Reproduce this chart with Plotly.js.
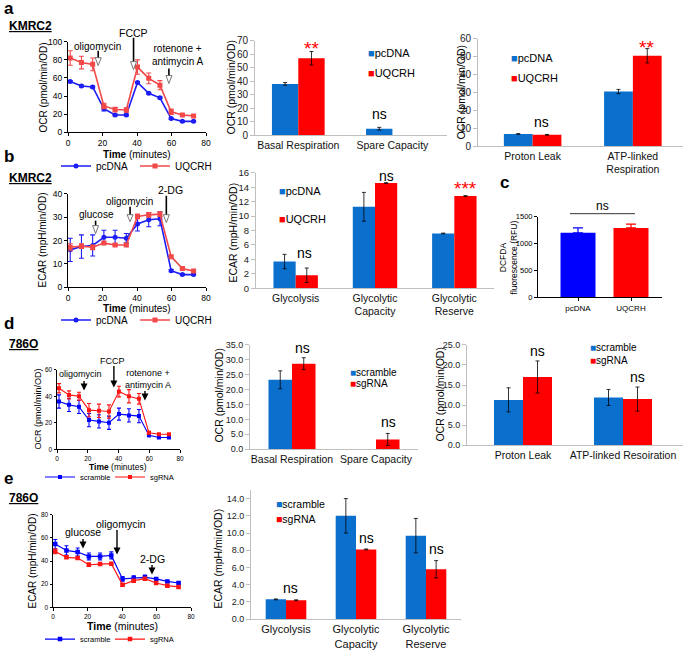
<!DOCTYPE html>
<html><head><meta charset="utf-8">
<script src="https://cdn.plot.ly/plotly-3.0.1.min.js"></script>
<style>html,body{margin:0;padding:0;background:#fff}#chart{width:685px;height:654px}</style>
</head><body><div id="chart"></div>
<script>
// ================= DATA =================
const times = [1.3, 7.8, 14.3, 20.8, 27.3, 33.8, 40.3, 46.8, 53.3, 59.8, 66.3, 72.8];
const timeTicks = [0, 20, 40, 60, 80];

// a (KMRC2 OCR time course)
const aOcrPcDNA    = [56, 51, 50, 26, 19, 19, 55, 43, 38, 15, 12, 12];
const aOcrPcDNAErr = [1, 1, 1, 2.5, 1, 1, 1, 1, 1, 1, 0.8, 0.8];
const aOcrUQCRH    = [82, 77, 75, 29, 25, 24.5, 72, 59.5, 52, 22.5, 19, 18];
const aOcrUQCRHErr = [8, 7, 7, 3, 2.5, 2.5, 8, 6, 5, 3, 1, 1];
const aInjTimes  = [17.5, 38, 58.5];
const aInjLabels = ['oligomycin', 'FCCP', 'rotenone +<br>antimycin A'];

// a middle bars
const aMidCats = ['Basal Respiration', 'Spare Capacity'];
const aMidPcDNA = [38, 4.8],   aMidPcDNAErr = [1, 1];
const aMidUQCRH = [57, null],  aMidUQCRHErr = [5, null];
const aMidSig = ['**', 'ns'];

// a right bars
const aRightCats = ['Proton Leak', 'ATP-linked<br>Respiration'];
const aRightPcDNA = [6.8, 30.5], aRightPcDNAErr = [0.2, 1.2];
const aRightUQCRH = [6.3, 50.5], aRightUQCRHErr = [0.2, 4];
const aRightSig = ['ns', '**'];

// b (KMRC2 ECAR time course)
const bEcarPcDNA    = [16, 17.4, 17.9, 21.4, 21.4, 21, 27.1, 28.9, 29.3, 7.1, 5.4, 5.4];
const bEcarPcDNAErr = [5, 5, 4.5, 3, 3, 2, 3, 3, 3, 0.5, 0.3, 0.3];
const bEcarUQCRH    = [17.1, 17.6, 17.1, 18.9, 18.1, 18.1, 30.3, 31, 31.3, 13.1, 8, 6.9];
const bEcarUQCRHErr = [1.5, 1, 1, 0.5, 0.5, 0.5, 1, 1, 1, 0.5, 0.5, 0.5];
const bInjTimes  = [16, 36, 57];
const bInjLabels = ['glucose', 'oligomycin', '2-DG'];

// b middle bars
const bMidCats = ['Glycolysis', 'Glycolytic<br>Capacity', 'Glycolytic<br>Reserve'];
const bMidPcDNA = [3.7, 11.3, 7.6],  bMidPcDNAErr = [1, 2, 0.05];
const bMidUQCRH = [1.8, 14.6, 12.8], bMidUQCRHErr = [1, 0.05, 0.05];
const bMidSig = ['ns', 'ns', '***'];

// c DCFDA
const cCats = ['pcDNA', 'UQCRH'];
const cValues = [1200, 1290];
const cErr = [90, 70];
const cSig = 'ns';

// d (786O OCR time course)
const dOcrScramble    = [36, 33.5, 32, 22, 21, 20, 26.5, 25.5, 25, 10.5, 8.8, 8.8];
const dOcrScrambleErr = [5, 5, 5, 5, 5, 5, 4.5, 5, 5, 1, 0.6, 0.6];
const dOcrSgRNA       = [46, 41, 40, 29.5, 29, 28.5, 43.5, 40, 38, 12.5, 11.3, 11.3];
const dOcrSgRNAErr    = [3.5, 3, 3, 5, 5, 5, 4, 5, 4, 1, 0.5, 0.5];
const dInjTimes  = [17.6, 37, 57.2];
const dInjLabels = ['oligomycin', 'FCCP', 'rotenone +<br>antimycin A'];

// d middle bars
const dMidCats = ['Basal Respiration', 'Spare Capacity'];
const dMidScramble = [23.3, null], dMidScrambleErr = [3, null];
const dMidSgRNA    = [28.7, 3.3],  dMidSgRNAErr = [2, 2];
const dMidSig = ['ns', 'ns'];

// d right bars
const dRightCats = ['Proton Leak', 'ATP-linked Resoiration'];
const dRightScramble = [11.3, 11.9], dRightScrambleErr = [3, 2];
const dRightSgRNA    = [17, 11.5],   dRightSgRNAErr = [4, 3];
const dRightSig = ['ns', 'ns'];

// e (786O ECAR time course)
const eEcarScramble    = [54.7, 49.2, 47.8, 44, 44, 44.9, 24.5, 25.3, 25.9, 24.5, 22.4, 21];
const eEcarScrambleErr = [4, 4, 3.5, 3, 3, 3, 2, 2, 2, 1, 1, 1];
const eEcarSgRNA       = [48.3, 43.2, 42.6, 36.8, 37.4, 37.7, 19.5, 23, 24.7, 21, 18.7, 17.6];
const eEcarSgRNAErr    = [2, 1, 1, 1.5, 1, 1, 1, 1, 1, 1, 1, 1];
const eInjTimes  = [17.4, 37.1, 57.4];
const eInjLabels = ['glucose', 'oligomycin', '2-DG'];

// e right bars
const eRightCats = ['Glycolysis', 'Glycolytic<br>Capacity', 'Glycolytic<br>Reserve'];
const eRightScramble = [2.3, 12, 9.7], eRightScrambleErr = [0.05, 2, 2];
const eRightSgRNA    = [2.2, 8.1, 5.8], eRightSgRNAErr = [0.05, 0.05, 1];
const eRightSig = ['ns', 'ns', 'ns'];

// ================= HELPERS =================
const W = 685, H = 654;
const X = p => p / W;
const Y = p => 1 - p / H;
const FONT = 'Liberation Sans, Arial, Helvetica, sans-serif';
const BAR_BLUE = '#0b6fcd', BAR_RED = '#ff0000';
const GP_BLUE = '#1c1cf5', GP_RED = '#f24848';
const GP2_BLUE = '#0000ff', GP2_RED = '#ff1414';

const traces = [];
const layout = {
  width: W, height: H, margin: {l: 0, r: 0, t: 0, b: 0},
  paper_bgcolor: '#fff', plot_bgcolor: 'rgba(0,0,0,0)',
  font: {family: FONT, color: '#000', size: 10},
  barmode: 'overlay', showlegend: true, hovermode: false,
  annotations: [], shapes: []
};
const ids = n => ({xk: n === 1 ? 'xaxis' : 'xaxis' + n, yk: n === 1 ? 'yaxis' : 'yaxis' + n,
                   xr: n === 1 ? 'x' : 'x' + n, yr: n === 1 ? 'y' : 'y' + n});

function gpAxes(n, xpx, ypx, yrange, dtick, fs, tl) {
  const k = ids(n);
  const common = {showline: true, linecolor: '#000', linewidth: 1, ticks: 'outside', ticklen: tl,
    tickwidth: 1, tickcolor: '#000', tickfont: {size: fs, color: '#000'}, showgrid: false,
    zeroline: false, fixedrange: true};
  layout[k.xk] = Object.assign({domain: [X(xpx[0]), X(xpx[1])], anchor: k.yr, range: [0, 80],
    tickvals: timeTicks}, common);
  layout[k.yk] = Object.assign({domain: [Y(ypx[1]), Y(ypx[0])], anchor: k.xr, range: yrange,
    tick0: 0, dtick: dtick}, common);
  return k;
}
function xlAxes(n, xpx, ypx, xrange, yrange, dtick, fmt, tfs, cfs) {
  const k = ids(n);
  layout[k.xk] = {domain: [X(xpx[0]), X(xpx[1])], anchor: k.yr, type: 'category', range: xrange,
    showline: true, linecolor: '#bfbfbf', linewidth: 1, ticks: '', tickfont: {size: cfs, color: '#111'},
    showgrid: false, zeroline: false, fixedrange: true};
  layout[k.yk] = {domain: [Y(ypx[1]), Y(ypx[0])], anchor: k.xr, range: yrange, tick0: 0, dtick: dtick,
    tickformat: fmt, showline: true, linecolor: '#bfbfbf', linewidth: 1, ticks: 'outside', ticklen: 4,
    tickcolor: '#bfbfbf', tickfont: {size: tfs, color: '#222'}, showgrid: false, zeroline: false, fixedrange: true};
  return k;
}
function lineTrace(k, y, err, name, color, leg, ms, sym, lw, ew) {
  traces.push({type: 'scatter', mode: 'lines+markers', x: times, y: y, name: name,
    xaxis: k.xr, yaxis: k.yr, legend: leg, line: {color: color, width: lw},
    marker: {color: color, size: ms, symbol: sym},
    error_y: {type: 'data', array: err, visible: true, color: color, thickness: 1.1, width: ew}});
}
function barTrace(k, cats, y, err, name, color, w, off) {
  traces.push({type: 'bar', x: cats, y: y, name: name, xaxis: k.xr, yaxis: k.yr, width: w, offset: off,
    showlegend: false, marker: {color: color, line: {width: 0}},
    error_y: {type: 'data', array: err, visible: true, color: '#000', thickness: 0.8, width: 2}});
}
function txt(text, xpx, ypx, size, opts) {
  layout.annotations.push(Object.assign({text: text, x: X(xpx), y: Y(ypx), xref: 'paper', yref: 'paper',
    xanchor: 'center', yanchor: 'middle', showarrow: false, font: {size: size, color: '#000', family: FONT}}, opts || {}));
}
function ytitle(text, xpx, ypx, size) { txt(text, xpx, ypx, size, {textangle: -90}); }
function barLegend(xpx, ypx, color, name, size) {
  txt('<span style="color:' + color + '">\u25A0</span>' + name, xpx, ypx, size, {xanchor: 'left'});
}
function sig(k, cat, yv, text, shift, color, size) {
  layout.annotations.push({text: text, x: cat, y: yv, xref: k.xr, yref: k.yr, xshift: shift,
    xanchor: 'center', yanchor: 'middle', showarrow: false, font: {size: size, color: color, family: FONT}});
}
// open-headed injection arrow (GraphPad style, panels a/b)
function openArrow(k, t, top, mid, bottom, pxPerMin) {
  const h = 3 / pxPerMin;
  layout.shapes.push({type: 'line', xref: k.xr, yref: 'paper', x0: t, x1: t, y0: Y(top), y1: Y(mid),
    line: {color: '#000', width: 1.6}});
  layout.shapes.push({type: 'path', xref: k.xr, yref: 'paper',
    path: 'M ' + (t - h) + ' ' + Y(mid) + ' L ' + (t + h) + ' ' + Y(mid) + ' L ' + t + ' ' + Y(bottom) + ' Z',
    fillcolor: '#fff', line: {color: '#555', width: 0.8}});
}
// filled injection arrow (panels d/e)
function solidArrow(k, t, tail, head) {
  layout.annotations.push({text: '', x: t, y: Y(head), xref: k.xr, yref: 'paper', showarrow: true,
    ax: 0, ay: -(head - tail), arrowhead: 2, arrowsize: 1, arrowwidth: 1.4, arrowcolor: '#000'});
}
function legendCfg(xpx, ypx, fs, ew) {
  return {x: X(xpx), y: Y(ypx), xanchor: 'left', yanchor: 'middle', orientation: 'h',
    font: {size: fs, color: '#000', family: FONT}, bgcolor: 'rgba(0,0,0,0)', borderwidth: 0,
    entrywidth: ew, entrywidthmode: 'pixels', itemclick: false, itemdoubleclick: false};
}

// ================= PANEL a =================
txt('<b>a</b>', 2, 9, 17, {xanchor: 'left'});
txt('<b><u>KMRC2</u></b>', 7, 26, 12, {xanchor: 'left'});

let k = gpAxes(1, [68, 206], [42, 133], [0, 100], 20, 8.5, 3);
lineTrace(k, aOcrPcDNA, aOcrPcDNAErr, 'pcDNA', GP_BLUE, 'legend', 5, 'circle', 1.6, 2.5);
lineTrace(k, aOcrUQCRH, aOcrUQCRHErr, 'UQCRH', GP_RED, 'legend', 5, 'square', 1.6, 2.5);
layout.legend = legendCfg(56, 167, 10, 34);
ytitle('OCR (pmol/min/OD)', 43, 88, 10);
txt('<b>Time</b> (minutes)', 137, 155, 10);
const aPPM = 138 / 80;
txt(aInjLabels[0], 98, 47, 10);
txt(aInjLabels[1], 133, 33, 10.5);
txt(aInjLabels[2], 177, 55, 10);
openArrow(k, aInjTimes[0], 51, 58, 66, aPPM);
openArrow(k, aInjTimes[1], 38, 62, 70, aPPM);
openArrow(k, aInjTimes[2], 69, 76, 84, aPPM);

k = xlAxes(2, [255, 447], [41, 136], [-0.46, 1.58], [0, 70], 10, '', 10, 10.5);
barTrace(k, aMidCats, aMidPcDNA, aMidPcDNAErr, 'pcDNA', BAR_BLUE, 0.28, -0.28);
barTrace(k, aMidCats, aMidUQCRH, aMidUQCRHErr, 'UQCRH', BAR_RED, 0.28, 0);
barLegend(366, 53, BAR_BLUE, 'pcDNA', 11);
barLegend(366, 73, BAR_RED, 'UQCRH', 11);
ytitle('OCR (pmol/min/OD)', 231, 88, 10.5);
sig(k, aMidCats[0], 64, aMidSig[0], 13, '#ff0000', 19);
sig(k, aMidCats[1], 15.5, aMidSig[1], -13, '#000', 14);

k = xlAxes(3, [478, 683], [39, 147], [-0.545, 1.5], [0, 60], 10, '', 10, 10.5);
barTrace(k, aRightCats, aRightPcDNA, aRightPcDNAErr, 'pcDNA', BAR_BLUE, 0.287, -0.287);
barTrace(k, aRightCats, aRightUQCRH, aRightUQCRHErr, 'UQCRH', BAR_RED, 0.287, 0);
barLegend(509, 58, BAR_BLUE, 'pcDNA', 11);
barLegend(509, 78, BAR_RED, 'UQCRH', 11);
ytitle('OCR (pmol/min/OD)', 461, 93, 10.5);
sig(k, aRightCats[0], 13.3, aRightSig[0], 9, '#000', 14);
sig(k, aRightCats[1], 55, aRightSig[1], 14, '#ff0000', 19);

// ================= PANEL b =================
txt('<b>b</b>', 2, 157, 17, {xanchor: 'left'});
txt('<b><u>KMRC2</u></b>', 7, 179, 12, {xanchor: 'left'});

k = gpAxes(4, [68, 206], [195, 289], [0, 40], 10, 8.5, 3);
lineTrace(k, bEcarPcDNA, bEcarPcDNAErr, 'pcDNA', GP_BLUE, 'legend2', 5, 'circle', 1.6, 2.5);
lineTrace(k, bEcarUQCRH, bEcarUQCRHErr, 'UQCRH', GP_RED, 'legend2', 5, 'square', 1.6, 2.5);
layout.legend2 = legendCfg(56, 322, 10, 34);
ytitle('ECAR (mpH/min/OD)', 43, 242, 10);
txt('<b>Time</b> (minutes)', 137, 310, 10);
txt(bInjLabels[0], 96, 216, 10);
txt(bInjLabels[1], 129, 203, 10);
txt(bInjLabels[2], 170, 191, 10.5);
openArrow(k, bInjTimes[0], 222, 227, 235, aPPM);
openArrow(k, bInjTimes[1], 208, 216, 223, aPPM);
openArrow(k, bInjTimes[2], 197, 216, 224, aPPM);

k = xlAxes(5, [256, 494], [174, 290], [-0.5, 2.5], [0, 16], 2, '', 9.5, 10.5);
barTrace(k, bMidCats, bMidPcDNA, bMidPcDNAErr, 'pcDNA', BAR_BLUE, 0.28, -0.28);
barTrace(k, bMidCats, bMidUQCRH, bMidUQCRHErr, 'UQCRH', BAR_RED, 0.28, 0);
barLegend(277, 192, BAR_BLUE, 'pcDNA', 11);
barLegend(277, 220, BAR_RED, 'UQCRH', 11);
ytitle('ECAR (mpH/min/OD)', 233, 234, 10.5);
sig(k, bMidCats[0], 4.9, bMidSig[0], 9, '#000', 14);
sig(k, bMidCats[1], 15.6, bMidSig[1], 11, '#000', 14);
sig(k, bMidCats[2], 13.9, bMidSig[2], 11, '#ff0000', 19);

// ================= PANEL c =================
txt('<b>c</b>', 498, 184, 17, {xanchor: 'left'});
k = ids(6);
layout[k.xk] = {domain: [X(538), X(662)], anchor: k.yr, type: 'category', range: [-0.755, 1.585],
  showline: true, linecolor: '#000', linewidth: 1, ticks: 'outside', ticklen: 3, tickcolor: '#000',
  tickfont: {size: 8, color: '#000'}, showgrid: false, zeroline: false, fixedrange: true};
layout[k.yk] = {domain: [Y(299), Y(218)], anchor: k.xr, range: [0, 1500], tick0: 0, dtick: 500,
  showline: true, linecolor: '#000', linewidth: 1, ticks: 'outside', ticklen: 3, tickcolor: '#000',
  tickfont: {size: 7.5, color: '#000'}, showgrid: false, zeroline: false, fixedrange: true};
[0, 1].forEach(i => {
  const col = i === 0 ? '#0000ff' : '#ff0000';
  traces.push({type: 'bar', x: [cCats[i]], y: [cValues[i]], name: cCats[i], xaxis: k.xr, yaxis: k.yr,
    width: 0.66, offset: -0.33, showlegend: false, marker: {color: col, line: {width: 0}},
    error_y: {type: 'data', array: [cErr[i]], arrayminus: [0], symmetric: false, visible: true,
      color: col, thickness: 1.2, width: 5}});
});
ytitle('DCFDA<br>fluorescence (RFU)', 508, 259, 8.5);
layout.shapes.push({type: 'line', xref: 'paper', yref: 'paper', x0: X(570), x1: X(635), y0: Y(215), y1: Y(215),
  line: {color: '#000', width: 0.8}});
txt(cSig, 602, 207, 12);

// ================= PANEL d =================
txt('<b>d</b>', 2, 325, 17, {xanchor: 'left'});
txt('<b><u>786O</u></b>', 7, 346, 12, {xanchor: 'left'});

k = gpAxes(7, [57, 180], [372, 452], [0, 60], 20, 6.5, 2.5);
lineTrace(k, dOcrScramble, dOcrScrambleErr, 'scramble', GP2_BLUE, 'legend3', 4, 'square', 1.1, 2);
lineTrace(k, dOcrSgRNA, dOcrSgRNAErr, 'sgRNA', GP2_RED, 'legend3', 4, 'square', 1.1, 2);
layout.legend3 = legendCfg(40, 480, 7.5, 25);
ytitle('OCR (pmol/min/OD)', 38, 412, 9);
txt('<b>Time</b> (minutes)', 118, 469.5, 8.5);
txt(dInjLabels[0], 80, 376, 9);
txt(dInjLabels[1], 113, 363, 9);
txt(dInjLabels[2], 148, 381, 9);
solidArrow(k, dInjTimes[0], 382, 393);
solidArrow(k, dInjTimes[1], 367, 390);
solidArrow(k, dInjTimes[2], 392, 403);

k = xlAxes(8, [250, 418], [347, 452], [-0.5, 1.5], [0, 35], 5, '.1f', 9, 10.5);
barTrace(k, dMidCats, dMidScramble, dMidScrambleErr, 'scramble', BAR_BLUE, 0.28, -0.28);
barTrace(k, dMidCats, dMidSgRNA, dMidSgRNAErr, 'sgRNA', BAR_RED, 0.28, 0);
barLegend(348, 375, BAR_BLUE, 'scramble', 10);
barLegend(348, 386, BAR_RED, 'sgRNA', 10);
ytitle('OCR (pmol/min/OD)', 219, 398, 10.5);
sig(k, dMidCats[0], 34, dMidSig[0], 10, '#000', 14);
sig(k, dMidCats[1], 9, dMidSig[1], 12, '#000', 14);

k = xlAxes(9, [467, 683], [347, 448], [-0.56, 1.6], [0, 25], 5, '.1f', 9, 10.5);
barTrace(k, dRightCats, dRightScramble, dRightScrambleErr, 'scramble', BAR_BLUE, 0.29, -0.29);
barTrace(k, dRightCats, dRightSgRNA, dRightSgRNAErr, 'sgRNA', BAR_RED, 0.29, 0);
barLegend(588, 350, BAR_BLUE, 'scramble', 10);
barLegend(588, 363, BAR_RED, 'sgRNA', 10);
ytitle('OCR (pmol/min/OD)', 440, 397, 10.5);
sig(k, dRightCats[0], 23.5, dRightSig[0], 14, '#000', 14);
sig(k, dRightCats[1], 17, dRightSig[1], 14, '#000', 14);

// ================= PANEL e =================
txt('<b>e</b>', 2, 481, 17, {xanchor: 'left'});
txt('<b><u>786O</u></b>', 7, 501, 12, {xanchor: 'left'});

k = gpAxes(10, [53, 191], [518, 611], [0, 80], 20, 6.5, 2.5);
lineTrace(k, eEcarScramble, eEcarScrambleErr, 'scramble', GP2_BLUE, 'legend4', 4.5, 'square', 1.2, 2);
lineTrace(k, eEcarSgRNA, eEcarSgRNAErr, 'sgRNA', GP2_RED, 'legend4', 4.5, 'square', 1.2, 2);
layout.legend4 = legendCfg(40, 643, 7.5, 25);
ytitle('ECAR (mpH/min/OD)', 33, 565, 10);
txt('<b>Time</b> (minutes)', 122, 630, 10.5);
txt(eInjLabels[0], 83, 535, 10.5);
txt(eInjLabels[1], 121, 527, 10.5);
txt(eInjLabels[2], 152, 562, 10.5);
solidArrow(k, eInjTimes[0], 541, 552);
solidArrow(k, eInjTimes[1], 532, 558);
solidArrow(k, eInjTimes[2], 567, 578);

k = xlAxes(11, [251, 461], [493, 623], [-0.5, 2.5], [0, 15], 2, '.1f', 9, 11);
layout[k.yk].tickvals = [0, 2, 4, 6, 8, 10, 12, 14];
barTrace(k, eRightCats, eRightScramble, eRightScrambleErr, 'scramble', BAR_BLUE, 0.29, -0.29);
barTrace(k, eRightCats, eRightSgRNA, eRightSgRNAErr, 'sgRNA', BAR_RED, 0.29, 0);
barLegend(274, 507, BAR_BLUE, 'scramble', 10.5);
barLegend(274, 522, BAR_RED, 'sgRNA', 10.5);
ytitle('ECAR (mpH/min/OD)', 218, 562, 10.5);
sig(k, eRightCats[0], 3.6, eRightSig[0], 4, '#000', 14);
sig(k, eRightCats[1], 9.4, eRightSig[1], 10, '#000', 14);
sig(k, eRightCats[2], 8.1, eRightSig[2], 10, '#000', 14);

Plotly.newPlot('chart', traces, layout, {staticPlot: true, displayModeBar: false});
</script></body></html>
